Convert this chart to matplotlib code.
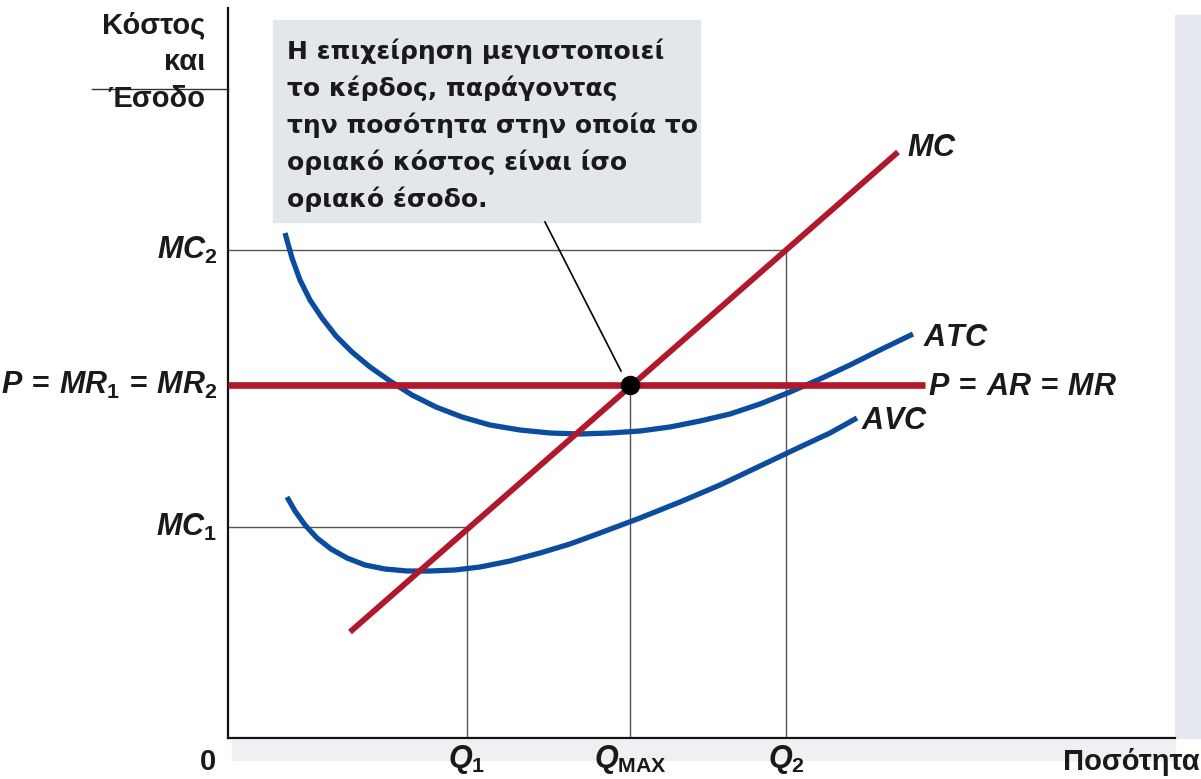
import matplotlib.pyplot as plt
import numpy as np
from matplotlib.patches import Rectangle

plt.rcParams['font.family'] = ['Liberation Sans', 'DejaVu Sans']
plt.rcParams['mathtext.fontset'] = 'custom'
plt.rcParams['mathtext.it'] = 'Liberation Sans:bold:italic'
plt.rcParams['mathtext.rm'] = 'Liberation Sans:bold'
plt.rcParams['mathtext.bf'] = 'Liberation Sans:bold'

# data (units: quantity on x, cost/revenue on y)
atc_x = [5.7, 6.4, 7.2, 8.2, 9.4, 10.8, 12.4, 14.2, 16.2, 18.4, 20.8, 23.4, 26.2, 29.2,
         32.2, 35.2, 38.2, 41.2, 44.2, 47.2, 50.2, 53.2, 56.2, 59.2, 62.2, 65.2, 68.5]
atc_y = [50.5, 48.0, 45.8, 43.8, 42.0, 40.2, 38.6, 37.1, 35.7, 34.3, 33.1, 32.1, 31.3, 30.8,
         30.5, 30.4, 30.5, 30.7, 31.1, 31.7, 32.4, 33.4, 34.6, 35.9, 37.3, 38.8, 40.4]
avc_x = [5.9, 6.7, 7.7, 8.9, 10.3, 11.9, 13.7, 15.7, 17.9, 20.2, 22.7, 25.2, 28.2, 31.2,
         34.2, 37.2, 41.2, 45.2, 49.2, 53.2, 57.2, 60.2, 62.9]
avc_y = [24.1, 22.7, 21.3, 20.0, 18.9, 18.0, 17.3, 16.9, 16.7, 16.7, 16.8, 17.1, 17.7, 18.5,
         19.4, 20.5, 22.0, 23.6, 25.3, 27.2, 29.1, 30.5, 32.0]
mc_x = [12.2, 67.0]
mc_y = [10.6, 58.6]
price = 35.3
mr_end = 69.7
q1, qmax, q2 = 23.9, 40.2, 55.8
mc1, mc2 = 21.1, 48.8

note_lines = ['Η επιχείρηση μεγιστοποιεί',
              'το κέρδος, παράγοντας',
              'την ποσότητα στην οποία το',
              'οριακό κόστος είναι ίσο',
              'οριακό έσοδο.']
ylab_lines = ['Κόστος', 'και', 'Έσοδο']

red = '#b1182b'
blue = '#0b4c9f'

fig = plt.figure(figsize=(12.01, 7.79), dpi=100)
W, H = 1201, 779
ax = fig.add_axes([228 / W, 41 / H, 947 / W, 730 / H])
ax.set_xlim(0, 94.7)
ax.set_ylim(0, 73.0)
for s in ['top', 'right']:
    ax.spines[s].set_visible(False)
for s in ['left', 'bottom']:
    ax.spines[s].set_linewidth(1.6)
    ax.spines[s].set_color('#111111')
ax.set_xticks([])
ax.set_yticks([])
ax.patch.set_alpha(0)

# background decorations
fig.patches.append(Rectangle((1175 / W, 41 / H), 26 / W, 723 / H, transform=fig.transFigure,
                             color='#e6e9ef', zorder=-1))
fig.patches.append(Rectangle((232 / W, 19 / H), 943 / W, 20 / H, transform=fig.transFigure,
                             color='#eef0f4', zorder=-1))

# guide lines
lc = '#555555'
ax.plot([0, q2], [mc2, mc2], color=lc, lw=1.0)
ax.plot([0, q1], [mc1, mc1], color=lc, lw=1.0)
ax.plot([q1, q1], [0, mc1], color=lc, lw=1.0)
ax.plot([qmax, qmax], [0, price], color=lc, lw=1.0)
ax.plot([q2, q2], [0, mc2], color=lc, lw=1.0)
ax.plot([-13.6, 0], [64.9, 64.9], color='#333333', lw=1.0, clip_on=False)

# curves
ax.plot(atc_x, atc_y, color=blue, lw=3.8, solid_capstyle='butt', solid_joinstyle='round', zorder=3)
ax.plot(avc_x, avc_y, color=blue, lw=3.8, solid_capstyle='butt', solid_joinstyle='round', zorder=3)
ax.plot([0, mr_end], [price, price], color=red, lw=4.8, solid_capstyle='butt', zorder=4)
ax.plot(mc_x, mc_y, color=red, lw=4.2, solid_capstyle='butt', zorder=4)
ax.plot([qmax], [price], 'o', color='black', ms=13, zorder=6)

# note box
ax.add_patch(Rectangle((4.5, 51.6), 42.7, 20.2, color='#e3e6eb', zorder=2, clip_on=False))
for i, line in enumerate(note_lines):
    ax.text(5.9, 67.9 - 3.7 * i, line, fontsize=18, fontweight='bold', color='#1a1a1a',
            family='DejaVu Sans', va='baseline', ha='left', zorder=3, clip_on=False)
ax.plot([31.7, 39.3], [51.6, 36.7], color='black', lw=1.2, zorder=5)

# axis labels
for i, line in enumerate(ylab_lines):
    ax.text(-2.3, 70.5 - 3.7 * i, line, fontsize=21, fontweight='bold', color='#1a1a1a',
            va='baseline', ha='right', clip_on=False)
ax.text(97.2, -3.2, 'Ποσότητα', fontsize=21, fontweight='bold', color='#1a1a1a',
        va='baseline', ha='right', clip_on=False)
ax.text(-2.0, -3.2, '0', fontsize=21, fontweight='bold', color='#1a1a1a',
        va='baseline', ha='center', clip_on=False)

tk = dict(fontsize=22, color='#1a1a1a', clip_on=False)
ax.text(-1.1, mc2, '$MC_2$', ha='right', va='center', **tk)
ax.text(-1.1, price, r'$P\,=\,MR_1\,=\,MR_2$', ha='right', va='center', **tk)
ax.text(-1.1, mc1, '$MC_1$', ha='right', va='center', **tk)
ax.text(q1, -2.9, '$Q_1$', ha='center', va='baseline', **tk)
ax.text(qmax, -2.9, r'$Q_{\mathrm{MAX}}$', ha='center', va='baseline', **tk)
ax.text(q2, -2.9, '$Q_2$', ha='center', va='baseline', **tk)

ax.text(67.9, 59.0, '$MC$', ha='left', va='center', **tk)
ax.text(69.5, 40.0, '$ATC$', ha='left', va='center', **tk)
ax.text(70.0, price - 0.2, r'$P\,=\,AR\,=\,MR$', ha='left', va='center', **tk)
ax.text(63.3, 31.7, '$AVC$', ha='left', va='center', **tk)

fig.savefig('out.png', dpi=100)
